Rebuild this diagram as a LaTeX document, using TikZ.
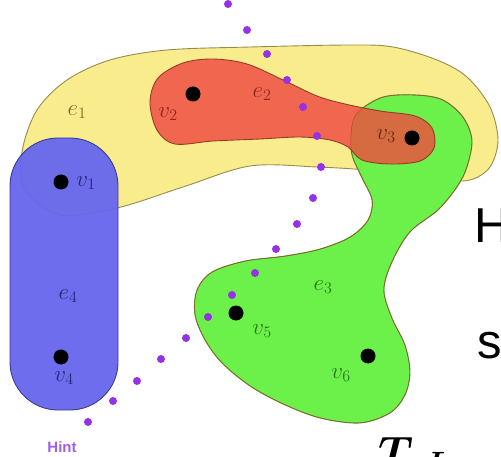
\RequirePackage{fix-cm}
\documentclass[tikz,border=0pt]{standalone}
\usepackage{fontspec}
\newfontfamily\arial{Liberation Sans}
\definecolor{yfill}{RGB}{248,236,140}
\definecolor{ydraw}{RGB}{150,140,80}
\definecolor{rfill}{RGB}{241,102,78}
\definecolor{rdraw}{RGB}{150,60,40}
\definecolor{bfill}{RGB}{102,102,238}
\definecolor{bdraw}{RGB}{60,60,150}
\definecolor{gfill}{RGB}{108,240,74}
\definecolor{gdraw}{RGB}{80,150,50}
\definecolor{brfill}{RGB}{214,106,64}
\definecolor{pdot}{RGB}{150,50,230}
\definecolor{hintc}{RGB}{160,95,230}
\definecolor{ylab}{RGB}{120,110,40}
\definecolor{rlab}{RGB}{140,40,30}
\definecolor{brlab}{RGB}{100,45,25}
\definecolor{blab}{RGB}{40,40,120}
\definecolor{glab}{RGB}{40,120,30}
\tikzset{
  region/.style={line width=0.9pt},
  vert/.style={circle, fill=black, inner sep=0pt, minimum size=15pt},
  lab/.style={inner sep=0pt, font=\fontsize{23}{25}\selectfont},
  pd/.style={circle, fill=pdot, inner sep=0pt, minimum size=8pt},
  bigtxt/.style={inner sep=0pt, anchor=base west, font=\arial\fontsize{49}{55}\selectfont}
}
\begin{document}
\begin{tikzpicture}[x=1pt,y=-1pt]
\useasboundingbox (0,0) rectangle (501,457);
\clip (0,0) rectangle (501,457);
\fill[white] (0,0) rectangle (501,457);
% e1 yellow
\draw[region, fill=yfill, draw=ydraw] plot[smooth cycle, tension=0.55] coordinates {
 (22,152) (37,110) (67,80) (110,60) (167,50) (250,47) (350,45) (393,47) (437,60) (467,77) (490,107) (498,140) (490,167) (470,180) (440,180) (417,175) (367,170) (317,167) (250,166) (183,187) (117,208) (60,215) (25,190)};
% e3 green
\def\greenpath{plot[smooth cycle, tension=0.55] coordinates {
 (357,113) (383,97) (417,95) (443,100) (463,117) (472,140) (467,167) (457,187) (438,210) (410,232) (392,262) (384,290) (392,318) (405,345) (410,372) (405,395) (390,413) (360,423) (320,418) (283,404) (250,386) (222,363) (205,340) (195,315) (197,290) (212,272) (245,261) (285,256) (320,249) (350,237) (368,220) (372,200) (362,178) (352,155) (351,132)}}
\draw[region, fill=gfill, draw=gdraw] \greenpath;
% e2 red
\def\redpath{plot[smooth cycle, tension=0.55] coordinates {
 (150,102) (158,78) (183,63) (213,59) (247,64) (283,80) (317,96) (345,104) (380,111) (415,116) (432,128) (434,148) (420,161) (390,164) (362,160) (348,147) (330,140) (300,137) (260,139) (213,141) (175,144) (157,130)}}
\fill[rfill] \redpath;
\begin{scope}
  \clip \greenpath;
  \fill[brfill] \redpath;
  \draw[region, draw=rdraw!70!brfill] \greenpath;
\end{scope}
\draw[region, draw=rdraw] \redpath;
% e4 blue
\draw[region, fill=bfill, draw=bdraw, fill opacity=0.95, rounded corners=48pt] (10,138) rectangle (118,410);
% vertices
\node[vert] (v1) at (61,182) {};
\node[vert] (v2) at (193,94) {};
\node[vert] (v3) at (412,138) {};
\node[vert] (v4) at (61,357) {};
\node[vert] (v5) at (236,313) {};
\node[vert] (v6) at (368,356) {};
% labels
\node[lab, text=blab] (lv1) at (86,183) {$v_1$};
\node[lab, text=rlab] (lv2) at (168,114) {$v_2$};
\node[lab, text=brlab] (lv3) at (386,136) {$v_3$};
\node[lab, text=blab] (lv4) at (64,378) {$v_4$};
\node[lab, text=glab] (lv5) at (262,331) {$v_5$};
\node[lab, text=glab] (lv6) at (341,375) {$v_6$};
\node[lab, text=ylab] (le1) at (77,112) {$e_1$};
\node[lab, text=rlab] (le2) at (262,94) {$e_2$};
\node[lab, text=glab] (le3) at (323,287) {$e_3$};
\node[lab, text=blab] (le4) at (68,296) {$e_4$};
% dotted hint line
\foreach \p [count=\i] in {(228,4),(247,30),(267,54),(287,80),(303,107),(317,136),(321,167),(313,198),(297,224),(276,249),(255,273),(232,295),(208,317),(186,338),(161,359),(137,381),(113,401),(88,422)}
  \node[pd] (d\i) at \p {};
\node[text=hintc, inner sep=0pt, font=\arial\bfseries\fontsize{15}{17}\selectfont] (hint) at (62,447) {Hint};
% cropped text at the right and bottom
\node[bigtxt] (H) at (474,243) {H};
\node[bigtxt] (s) at (477,358) {s};
\node[inner sep=0pt, anchor=base west, font=\fontsize{44}{50}\selectfont\boldmath] (TL) at (378,467) {$T_{\hspace{20pt}L}$};
\end{tikzpicture}
\end{document}
